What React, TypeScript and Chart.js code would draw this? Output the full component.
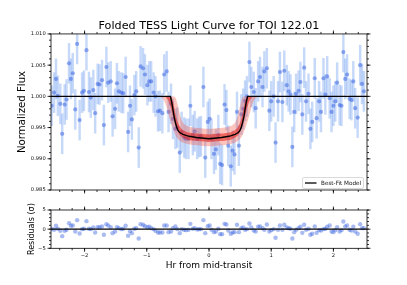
import React, { useEffect, useRef } from 'react';
import { Chart, registerables } from 'chart.js';

Chart.register(...registerables);

// ---------- data ----------
const X_MIN = -2.54;
const X_MAX = 2.54;
const X_TICKS = [-2, -1, 0, 1, 2];
const FLUX_TICKS = [0.985, 0.99, 0.995, 1.0, 1.005, 1.01];
const RESID_TICKS = [-5, 0, 5];

const HOURS = [
  -2.53, -2.49, -2.46, -2.43, -2.39, -2.36, -2.32, -2.29, -2.25, -2.22,
  -2.19, -2.15, -2.12, -2.08, -2.04, -2.01, -1.97, -1.93, -1.9, -1.86,
  -1.83, -1.79, -1.76, -1.72, -1.69, -1.65, -1.62, -1.58, -1.55, -1.51,
  -1.48, -1.45, -1.41, -1.38, -1.34, -1.3, -1.27, -1.24, -1.2, -1.17,
  -1.13, -1.1, -1.06, -1.03, -0.99, -0.96, -0.93, -0.89, -0.86, -0.82,
  -0.79, -0.75, -0.72, -0.68, -0.65, -0.61, -0.58, -0.54, -0.51, -0.47,
  -0.44, -0.4, -0.37, -0.33, -0.3, -0.26, -0.23, -0.19, -0.16, -0.13,
  -0.09, -0.06, -0.02, 0.01, 0.04, 0.08, 0.11, 0.15, 0.18, 0.21,
  0.25, 0.28, 0.31, 0.35, 0.38, 0.41, 0.45, 0.48, 0.52, 0.55,
  0.58, 0.61, 0.65, 0.68, 0.72, 0.75, 0.79, 0.82, 0.86, 0.89,
  0.93, 0.97, 1.0, 1.04, 1.07, 1.11, 1.14, 1.18, 1.21, 1.25,
  1.28, 1.31, 1.34, 1.37, 1.4, 1.44, 1.47, 1.5, 1.53, 1.56,
  1.6, 1.63, 1.66, 1.7, 1.73, 1.77, 1.8, 1.84, 1.87, 1.9,
  1.94, 1.97, 2.0, 2.03, 2.06, 2.1, 2.13, 2.16, 2.19, 2.22,
  2.26, 2.29, 2.32, 2.35, 2.39, 2.43, 2.46, 2.49,
];

const FLUX = [
  0.9985, 1.0006, 1.0028, 1.0001, 0.9988, 0.994, 0.9987, 0.9995, 1.0053, 1.0028,
  1.0037, 0.9979, 1.0084, 0.9962, 1.0006, 1.0009, 1.0074, 1.0007, 0.9998, 1.001,
  0.9973, 1.002, 1.0019, 1.0026, 0.9954, 1.0047, 1.0022, 1.0024, 0.9968, 0.998,
  1.0021, 1.0008, 1.0006, 1.0005, 1.0031, 0.9943, 0.9985, 0.9963, 1.0002, 1.0008,
  0.9918, 1.0048, 1.0045, 1.0035, 1.0018, 1.0024, 1.0024, 1.0006, 1.0, 0.9976,
  0.9977, 0.9973, 1.0035, 1.004, 0.9975, 0.9988, 0.9964, 0.9948, 0.995, 0.991,
  0.9943, 0.9934, 0.9932, 0.9932, 0.9985, 0.9938, 0.9944, 0.9932, 0.9935, 0.9936,
  1.0015, 0.9902, 0.9959, 0.9964, 0.9932, 0.9908, 0.9915, 0.9938, 0.9892, 0.989,
  0.9987, 0.9978, 0.9921, 0.9888, 0.9913, 0.9907, 0.9975, 0.9921, 0.9971, 0.998,
  0.9993, 1.0, 1.0055, 1.0015, 1.0007, 0.9981, 1.0024, 1.0031, 1.0015, 1.004,
  1.0045, 0.9977, 0.9992, 1.0, 0.9926, 0.9992, 1.0039, 0.9991, 1.0041, 1.0018,
  1.0008, 1.0003, 0.9919, 0.9975, 1.0004, 1.0009, 1.0023, 0.9971, 1.0046, 0.9992,
  1.0004, 0.9948, 0.9959, 1.0029, 0.9965, 0.9992, 0.9975, 1.0029, 1.0003, 1.0032,
  0.9997, 0.9975, 0.9985, 0.9992, 1.0022, 0.9986, 0.9985, 1.0071, 1.0028, 1.0035,
  0.9996, 0.9994, 1.0024, 0.9981, 0.9966, 1.005, 1.002, 1.0008,
];

const FLUX_ERR = 0.0032;

const RESIDUALS = [
  0.09, -0.17, 0.87, 0.09, -0.43, -1.83, -0.43, -0.17, 1.57, 0.87,
  0.96, -0.61, 2.35, -1.13, 0.0, 0.09, 2.09, 0.09, 0.0, 0.43,
  -0.87, 0.52, 0.52, 0.7, -1.48, 1.3, 0.96, 0.52, -1.04, -0.61,
  0.52, 0.26, 0.0, 0.09, 0.87, -1.74, -0.52, -1.04, 0.09, 0.26,
  -2.44, 1.3, 1.13, 0.78, 0.52, 0.61, 0.26, 0.0, -0.43, -0.87,
  -0.87, -0.87, 0.96, 0.96, -0.78, -0.61, 0.26, 0.7, 0.0, -1.04,
  0.0, -0.17, -0.26, -0.17, 1.39, 0.09, 0.26, -0.09, 0.0, 0.0,
  2.35, -1.04, 0.78, 0.96, -0.17, -0.78, -0.61, 0.09, -1.3, -1.3,
  1.39, 1.22, -0.35, -1.22, -0.87, -0.78, 1.13, -0.78, 0.26, 0.43,
  -0.17, 0.0, 1.48, 0.43, -0.35, -0.61, 0.61, 0.7, 0.26, -0.17,
  1.22, -0.61, -0.26, 0.0, -2.26, -0.17, 0.96, -0.17, 1.13, 0.43,
  0.26, 0.09, -2.44, -0.78, -0.17, 0.26, 0.61, -0.96, 1.13, -0.17,
  0.09, -1.48, -1.22, 0.7, -0.96, -0.26, -0.35, 0.0, 0.09, 0.61,
  0.96, -0.61, -0.78, -0.26, 0.52, -0.61, -0.26, 2.0, 0.7, 0.96,
  -0.17, -0.35, 0.61, -0.61, -1.22, 1.3, 0.26, 0.26,
];

// best-fit transit model
const MODEL_HOURS = [
  -2.6, -0.62, -0.6, -0.58, -0.56, -0.54, -0.52, -0.5, -0.47, -0.42, -0.32, -0.2, 0,
  0.2, 0.32, 0.42, 0.47, 0.5, 0.52, 0.54, 0.56, 0.58, 0.6, 0.62, 2.6,
];
const MODEL_FLUX = [
  1.0, 1.0, 0.9991, 0.9979, 0.9967, 0.9958, 0.9951, 0.9946, 0.9942, 0.9939, 0.9936, 0.9934, 0.9932,
  0.9934, 0.9936, 0.9939, 0.9942, 0.9946, 0.9951, 0.9958, 0.9967, 0.9979, 0.9991, 1.0, 1.0,
];

// spread of the posterior model samples (red)
const BAND_HOURS = [
  -0.8, -0.74, -0.7, -0.66, -0.62, -0.58, -0.54, -0.5, -0.46, -0.42, -0.36, -0.25, -0.12, 0,
  0.12, 0.25, 0.36, 0.42, 0.46, 0.5, 0.54, 0.58, 0.62, 0.66, 0.7, 0.74, 0.8,
];
const OUTER_UPPER = [
  1.0, 1.0, 1.0, 1.0, 1.0, 1.0, 0.9998, 0.9985, 0.9968, 0.9958, 0.9953, 0.995, 0.9949, 0.9948,
  0.9949, 0.995, 0.9953, 0.9958, 0.9968, 0.9985, 0.9998, 1.0, 1.0, 1.0, 1.0, 1.0, 1.0,
];
const OUTER_LOWER = [
  1.0, 0.9996, 0.9988, 0.9974, 0.996, 0.9948, 0.9938, 0.9932, 0.9928, 0.9926, 0.9924, 0.9922, 0.9921, 0.992,
  0.9921, 0.9922, 0.9924, 0.9926, 0.9928, 0.9932, 0.9938, 0.9948, 0.996, 0.9974, 0.9988, 0.9996, 1.0,
];
const INNER_UPPER = [
  1.0, 1.0, 1.0, 1.0, 1.0, 0.9992, 0.9972, 0.9958, 0.995, 0.9946, 0.9943, 0.9941, 0.994, 0.9939,
  0.994, 0.9941, 0.9943, 0.9946, 0.995, 0.9958, 0.9972, 0.9992, 1.0, 1.0, 1.0, 1.0, 1.0,
];
const INNER_LOWER = [
  1.0, 1.0, 0.9999, 0.9994, 0.9984, 0.9968, 0.9953, 0.9943, 0.9937, 0.9934, 0.9931, 0.9929, 0.9928, 0.9927,
  0.9928, 0.9929, 0.9931, 0.9934, 0.9937, 0.9943, 0.9953, 0.9968, 0.9984, 0.9994, 0.9999, 1.0, 1.0,
];

// ---------- helpers ----------
const FONT = 'DejaVu Sans';
const minus = (v: number) => String(v).replace('-', '\u2212');
const pts = (xs: number[], ys: number[]) => xs.map((x, i) => ({ x, y: ys[i] }));

const framePlugin = {
  id: 'frame',
  afterDraw(chart: any, _args: any, opts: any) {
    if (!opts || !opts.xMajor) return;
    const { ctx, chartArea: a } = chart;
    const xs = chart.scales.x;
    const ys = chart.scales.y;
    ctx.save();
    ctx.strokeStyle = '#000';
    ctx.lineWidth = 0.8;
    ctx.beginPath();
    const seg = (x1: number, y1: number, x2: number, y2: number) => {
      ctx.moveTo(x1, y1);
      ctx.lineTo(x2, y2);
    };
    const xTick = (v: number, len: number) => {
      const p = xs.getPixelForValue(v);
      if (p < a.left - 0.2 || p > a.right + 0.2) return;
      seg(p, a.bottom, p, a.bottom + len);
      seg(p, a.top, p, a.top - len);
    };
    const yTick = (v: number, len: number) => {
      const p = ys.getPixelForValue(v);
      if (p < a.top - 0.2 || p > a.bottom + 0.2) return;
      seg(a.left, p, a.left - len, p);
      seg(a.right, p, a.right + len, p);
    };
    opts.xMajor.forEach((v: number) => xTick(v, 3.5));
    for (let k = Math.ceil(xs.min / opts.xMinor); k * opts.xMinor <= xs.max; k++) xTick(k * opts.xMinor, 2);
    opts.yMajor.forEach((v: number) => yTick(v, 3.5));
    for (let k = Math.ceil(ys.min / opts.yMinor - 1e-6); k * opts.yMinor <= ys.max + 1e-9; k++) yTick(k * opts.yMinor, 2);
    ctx.stroke();
    ctx.strokeRect(a.left, a.top, a.right - a.left, a.bottom - a.top);
    ctx.restore();
  },
};

const legendPlugin = {
  id: 'modelLegend',
  afterDraw(chart: any) {
    const { ctx, chartArea: a } = chart;
    const w = 61;
    const h = 11;
    const x = a.right - 3.5 - w;
    const y = a.bottom - 1.5 - h;
    ctx.save();
    ctx.beginPath();
    const r = 1.5;
    ctx.moveTo(x + r, y);
    ctx.lineTo(x + w - r, y);
    ctx.quadraticCurveTo(x + w, y, x + w, y + r);
    ctx.lineTo(x + w, y + h - r);
    ctx.quadraticCurveTo(x + w, y + h, x + w - r, y + h);
    ctx.lineTo(x + r, y + h);
    ctx.quadraticCurveTo(x, y + h, x, y + h - r);
    ctx.lineTo(x, y + r);
    ctx.quadraticCurveTo(x, y, x + r, y);
    ctx.fillStyle = 'rgba(255,255,255,0.85)';
    ctx.fill();
    ctx.strokeStyle = '#d0d0d0';
    ctx.lineWidth = 0.8;
    ctx.stroke();
    ctx.beginPath();
    ctx.strokeStyle = '#000';
    ctx.lineWidth = 1.3;
    ctx.moveTo(x + 2.5, y + h / 2);
    ctx.lineTo(x + 14, y + h / 2);
    ctx.stroke();
    ctx.fillStyle = '#111';
    ctx.font = `5.7px "${FONT}"`;
    ctx.textBaseline = 'middle';
    ctx.textAlign = 'left';
    ctx.fillText('Best-Fit Model', x + 18.5, y + h / 2 + 0.3);
    ctx.restore();
  },
};

export default function App() {
  const mainRef = useRef<HTMLCanvasElement>(null);
  const resRef = useRef<HTMLCanvasElement>(null);

  useEffect(() => {
    const tickFont = { family: FONT, size: 5.2 };

    const main = new Chart(mainRef.current as HTMLCanvasElement, {
      type: 'scatter',
      data: {
        datasets: [
          {
            type: 'line',
            label: 'Best-Fit Model',
            data: pts(MODEL_HOURS, MODEL_FLUX),
            borderColor: '#000',
            borderWidth: 1.4,
            pointRadius: 0,
            tension: 0,
            fill: false,
            order: 0,
          },
          {
            type: 'line',
            label: 'inner upper',
            data: pts(BAND_HOURS, INNER_UPPER),
            borderWidth: 0,
            borderColor: 'rgba(0,0,0,0)',
            backgroundColor: 'rgba(228,30,20,0.55)',
            pointRadius: 0,
            tension: 0.3,
            fill: '+1',
            order: 1,
          },
          {
            type: 'line',
            label: 'inner lower',
            data: pts(BAND_HOURS, INNER_LOWER),
            borderWidth: 0,
            borderColor: 'rgba(0,0,0,0)',
            pointRadius: 0,
            tension: 0.3,
            fill: false,
            order: 1,
          },
          {
            type: 'line',
            label: 'outer upper',
            data: pts(BAND_HOURS, OUTER_UPPER),
            borderWidth: 0,
            borderColor: 'rgba(0,0,0,0)',
            backgroundColor: 'rgba(250,70,50,0.32)',
            pointRadius: 0,
            tension: 0.3,
            fill: '+1',
            order: 2,
          },
          {
            type: 'line',
            label: 'outer lower',
            data: pts(BAND_HOURS, OUTER_LOWER),
            borderWidth: 0,
            borderColor: 'rgba(0,0,0,0)',
            pointRadius: 0,
            tension: 0.3,
            fill: false,
            order: 2,
          },
          {
            type: 'scatter',
            label: 'Flux',
            data: pts(HOURS, FLUX),
            backgroundColor: 'rgba(65,105,225,0.55)',
            borderWidth: 0,
            pointRadius: 2.1,
            order: 3,
          },
          {
            type: 'bar',
            label: 'Error',
            data: HOURS.map((x, i) => ({ x, y: [FLUX[i] - FLUX_ERR, FLUX[i] + FLUX_ERR] })) as any,
            backgroundColor: 'rgba(100,149,237,0.36)',
            borderWidth: 0,
            barThickness: 1.8,
            grouped: false,
            order: 4,
          } as any,
        ],
      },
      options: {
        responsive: false,
        animation: false,
        events: [],
        layout: { padding: { left: 0, right: 40, top: 0, bottom: 0 } },
        plugins: {
          legend: { display: false },
          tooltip: { enabled: false },
          title: {
            display: true,
            text: 'Folded TESS Light Curve for TOI 122.01',
            color: '#000',
            fullSize: false,
            font: { family: FONT, size: 11.2, weight: 'normal' },
            padding: { top: 19.5, bottom: 1 },
          },
          frame: { xMajor: X_TICKS, xMinor: 0.2, yMajor: FLUX_TICKS, yMinor: 0.001 },
        } as any,
        scales: {
          x: {
            type: 'linear',
            min: X_MIN,
            max: X_MAX,
            offset: false,
            grid: { display: false, drawTicks: false },
            border: { display: false },
            ticks: { display: false },
            afterBuildTicks: (s: any) => {
              s.ticks = X_TICKS.map((value) => ({ value }));
            },
            afterFit: (s: any) => {
              s.height = 10;
            },
          },
          y: {
            type: 'linear',
            min: 0.985,
            max: 1.01,
            grid: { display: false, drawTicks: false },
            border: { display: false },
            ticks: {
              font: tickFont,
              color: '#111',
              padding: 5.3,
              callback: (v: any) => Number(v).toFixed(3),
            },
            afterBuildTicks: (s: any) => {
              s.ticks = FLUX_TICKS.map((value) => ({ value }));
            },
            afterFit: (s: any) => {
              s.width = 51;
            },
            title: {
              display: true,
              text: 'Normalized Flux',
              color: '#000',
              font: { family: FONT, size: 10.2 },
              padding: { top: 16.4, bottom: 0 },
            },
          },
        },
      },
      plugins: [framePlugin, legendPlugin],
    });

    const res = new Chart(resRef.current as HTMLCanvasElement, {
      type: 'scatter',
      data: {
        datasets: [
          {
            type: 'line',
            label: 'zero',
            data: [
              { x: X_MIN, y: 0 },
              { x: X_MAX, y: 0 },
            ],
            borderColor: '#000',
            borderWidth: 1.4,
            pointRadius: 0,
            fill: false,
            order: 0,
          },
          {
            type: 'scatter',
            label: 'Residuals',
            data: pts(HOURS, RESIDUALS),
            backgroundColor: 'rgba(65,105,225,0.45)',
            borderWidth: 0,
            pointRadius: 2.2,
            order: 1,
          },
        ],
      },
      options: {
        responsive: false,
        animation: false,
        events: [],
        layout: { padding: { left: 0, right: 40, top: 10, bottom: 0 } },
        plugins: {
          legend: { display: false },
          tooltip: { enabled: false },
          frame: { xMajor: X_TICKS, xMinor: 0.2, yMajor: RESID_TICKS, yMinor: 1 },
        } as any,
        scales: {
          x: {
            type: 'linear',
            min: X_MIN,
            max: X_MAX,
            grid: { display: false, drawTicks: false },
            border: { display: false },
            ticks: { font: tickFont, color: '#111', padding: 4.1, callback: (v: any) => minus(v) },
            afterBuildTicks: (s: any) => {
              s.ticks = X_TICKS.map((value) => ({ value }));
            },
            afterFit: (s: any) => {
              s.height = 36.7;
            },
            title: {
              display: true,
              text: 'Hr from mid-transit',
              color: '#000',
              font: { family: FONT, size: 9.0 },
              padding: { top: 0, bottom: 14 },
            },
          },
          y: {
            type: 'linear',
            min: -5,
            max: 5,
            grid: { display: false, drawTicks: false },
            border: { display: false },
            ticks: { font: tickFont, color: '#111', padding: 5.3, callback: (v: any) => minus(v) },
            afterBuildTicks: (s: any) => {
              s.ticks = RESID_TICKS.map((value) => ({ value }));
            },
            afterFit: (s: any) => {
              s.width = 51;
            },
            title: {
              display: true,
              text: 'Residuals (\u03c3)',
              color: '#000',
              font: { family: FONT, size: 8.0 },
              padding: { top: 26.7, bottom: 0 },
            },
          },
        },
      },
      plugins: [framePlugin],
    });

    return () => {
      main.destroy();
      res.destroy();
    };
  }, []);

  return (
    <div style={{ position: 'absolute', left: 0, top: 0, width: 407, height: 285, background: '#fff' }}>
      <canvas ref={mainRef} width={407} height={200} style={{ position: 'absolute', left: 0, top: 0 }} />
      <canvas ref={resRef} width={407} height={85} style={{ position: 'absolute', left: 0, top: 200 }} />
    </div>
  );
}
